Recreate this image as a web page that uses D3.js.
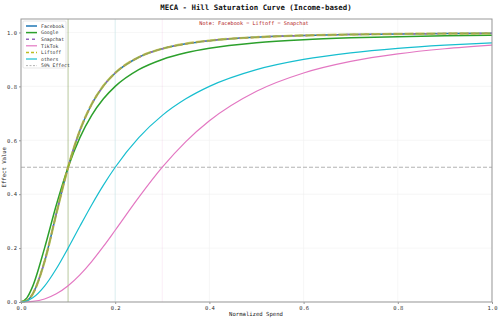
<!DOCTYPE html>
<html>
<head>
<meta charset="utf-8">
<script src="https://cdn.jsdelivr.net/npm/d3@7"></script>
<style>
  body { margin: 0; background: #fff; }
  svg { display: block; }
  text { font-family: "DejaVu Sans Mono", "Liberation Mono", monospace; }
</style>
</head>
<body>
<svg width="500" height="320"></svg>
<script>
// spend grid (x) and effect values
var spend = [0, 0.0125, 0.025, 0.05, 0.075, 0.1, 0.125, 0.15, 0.175, 0.2, 0.25, 0.3, 0.35, 0.4, 0.5, 0.6, 0.7, 0.8, 0.9, 1.0];

var facebook = [0, 0.0055, 0.0303, 0.1502, 0.3276, 0.5, 0.636, 0.7337, 0.802, 0.8498, 0.9081, 0.9397, 0.9582, 0.9697, 0.9824, 0.9888, 0.9923, 0.9945, 0.9959, 0.9968];
var google   = [0, 0.0154, 0.0588, 0.2, 0.36, 0.5, 0.6098, 0.6923, 0.7538, 0.8, 0.8621, 0.9, 0.9245, 0.9412, 0.9615, 0.973, 0.98, 0.9846, 0.9878, 0.9901];
var snapchat = facebook.slice();
var tiktok   = [0, 0.0004, 0.002, 0.0112, 0.0303, 0.0603, 0.1008, 0.1502, 0.2063, 0.2662, 0.388, 0.5, 0.5952, 0.6724, 0.7819, 0.8498, 0.8927, 0.9207, 0.9397, 0.953];
var liftoff  = facebook.slice();
var others   = [0, 0.0039, 0.0154, 0.0588, 0.1233, 0.2, 0.2809, 0.36, 0.4336, 0.5, 0.6098, 0.6923, 0.7538, 0.8, 0.8621, 0.9, 0.9245, 0.9412, 0.9529, 0.9615];

var channels = ["Facebook", "Google", "Snapchat", "TikTok", "Liftoff", "others"];
var halfSat  = [0.1, 0.1, 0.1, 0.3, 0.1, 0.2];
var xTicks = [0, 0.2, 0.4, 0.6, 0.8, 1.0];
var yTicks = [0, 0.2, 0.4, 0.6, 0.8, 1.0];

var values = { Facebook: facebook, Google: google, Snapchat: snapchat, TikTok: tiktok, Liftoff: liftoff, others: others };

var style = {
  Facebook: { color: "#1f77b4", width: 1.5, dash: null, op: 1 },
  Google:   { color: "#2ca02c", width: 1.5, dash: null, op: 1 },
  Snapchat: { color: "#9467bd", width: 1.5, dash: "3,3", op: 1 },
  TikTok:   { color: "#e377c2", width: 1.2, dash: null, op: 1 },
  Liftoff:  { color: "#bcbd22", width: 2.4, dash: "9,2", op: 0.7 },
  others:   { color: "#17becf", width: 1.2, dash: null, op: 1 }
};

var svg = d3.select("svg");
var m = { left: 21, right: 8, top: 19, bottom: 18 };
var W = 500, H = 320;

var x = d3.scaleLinear().domain([0, 1]).range([m.left, W - m.right]);
var y = d3.scaleLinear().domain([0, 1.05]).range([H - m.bottom, m.top]);

// grid
svg.append("g").selectAll("line").data(xTicks).enter().append("line")
  .attr("x1", function(d) { return x(d); }).attr("x2", function(d) { return x(d); })
  .attr("y1", y(0)).attr("y2", y(1.05))
  .attr("stroke", "#f0f0f0").attr("stroke-width", 0.6);
svg.append("g").selectAll("line").data(yTicks).enter().append("line")
  .attr("y1", function(d) { return y(d); }).attr("y2", function(d) { return y(d); })
  .attr("x1", x(0)).attr("x2", x(1))
  .attr("stroke", "#f0f0f0").attr("stroke-width", 0.6);

// half saturation markers (one per channel, later ones drawn on top)
svg.append("g").selectAll("line").data(channels).enter().append("line")
  .attr("x1", function(d, i) { return x(halfSat[i]); })
  .attr("x2", function(d, i) { return x(halfSat[i]); })
  .attr("y1", y(0)).attr("y2", y(1.05))
  .attr("stroke", function(d) { return style[d].color; })
  .attr("stroke-opacity", function(d) { return d == "Liftoff" ? 0.35 : 0.15; })
  .attr("stroke-width", 0.8);

// 50% line
svg.append("line")
  .attr("x1", x(0)).attr("x2", x(1)).attr("y1", y(0.5)).attr("y2", y(0.5))
  .attr("stroke", "#aaa").attr("stroke-width", 0.9).attr("stroke-dasharray", "4,2");

var line = d3.line()
  .x(function(d) { return x(d[0]); })
  .y(function(d) { return y(d[1]); })
  .curve(d3.curveMonotoneX);

svg.append("g").selectAll("path").data(channels).enter().append("path")
  .attr("d", function(c) { return line(spend.map(function(s, i) { return [s, values[c][i]]; })); })
  .attr("fill", "none")
  .attr("stroke", function(c) { return style[c].color; })
  .attr("stroke-width", function(c) { return style[c].width; })
  .attr("stroke-dasharray", function(c) { return style[c].dash; })
  .attr("stroke-opacity", function(c) { return style[c].op; });

// frame
svg.append("rect")
  .attr("x", x(0)).attr("y", y(1.05))
  .attr("width", x(1) - x(0)).attr("height", y(0) - y(1.05))
  .attr("fill", "none").attr("stroke", "#999").attr("stroke-width", 1);

// axes
var xAxis = svg.append("g").attr("transform", "translate(0," + y(0) + ")")
  .call(d3.axisBottom(x).tickValues(xTicks).tickFormat(d3.format(".1f")).tickSize(2).tickPadding(2));
var yAxis = svg.append("g").attr("transform", "translate(" + x(0) + ",0)")
  .call(d3.axisLeft(y).tickValues(yTicks).tickFormat(d3.format(".1f")).tickSize(2).tickPadding(2));
[xAxis, yAxis].forEach(function(a) {
  a.select(".domain").remove();
  a.selectAll(".tick line").attr("stroke", "#999");
  a.selectAll("text").attr("font-size", 5.5).attr("fill", "#333")
    .style("font-family", "'DejaVu Sans Mono', monospace");
});

// titles
svg.append("text").attr("x", 256).attr("y", 9.5).attr("text-anchor", "middle")
  .attr("font-size", 7.4).attr("fill", "#111").attr("font-weight", "bold")
  .text("MECA - Hill Saturation Curve (Income-based)");
svg.append("text").attr("x", 256).attr("y", 316).attr("text-anchor", "middle")
  .attr("font-size", 5.6).attr("fill", "#222").text("Normalized Spend");
svg.append("text").attr("transform", "translate(6," + y(0.5) + ") rotate(-90)").attr("text-anchor", "middle")
  .attr("font-size", 5.6).attr("fill", "#222").text("Effect Value");
svg.append("text").attr("x", 254).attr("y", 24.5).attr("text-anchor", "middle")
  .attr("font-size", 5.2).attr("fill", "#b22222").text("Note: Facebook = Liftoff = Snapchat");

// legend
var lg = svg.append("g").attr("transform", "translate(23,21)");
lg.append("rect").attr("width", 43).attr("height", 47)
  .attr("fill", "#fff").attr("fill-opacity", 0.85).attr("stroke", "#ddd").attr("stroke-width", 0.7).attr("rx", 1);
var items = channels.concat(["50% Effect"]);
var li = lg.selectAll("g.item").data(items).enter().append("g")
  .attr("transform", function(d, i) { return "translate(3," + (5 + i * 6.6) + ")"; });
li.append("line").attr("x1", 0).attr("x2", 11)
  .attr("stroke", function(d) { return style[d] ? style[d].color : "#aaa"; })
  .attr("stroke-width", function(d) { return style[d] ? Math.min(style[d].width, 1.5) : 0.9; })
  .attr("stroke-dasharray", function(d) { return style[d] ? (d == "Liftoff" ? "3,2" : style[d].dash) : "2,1.5"; });
li.append("text").attr("x", 15).attr("y", 1.8).attr("font-size", 4.8).attr("fill", "#333").text(function(d) { return d; });
</script>
</body>
</html>
